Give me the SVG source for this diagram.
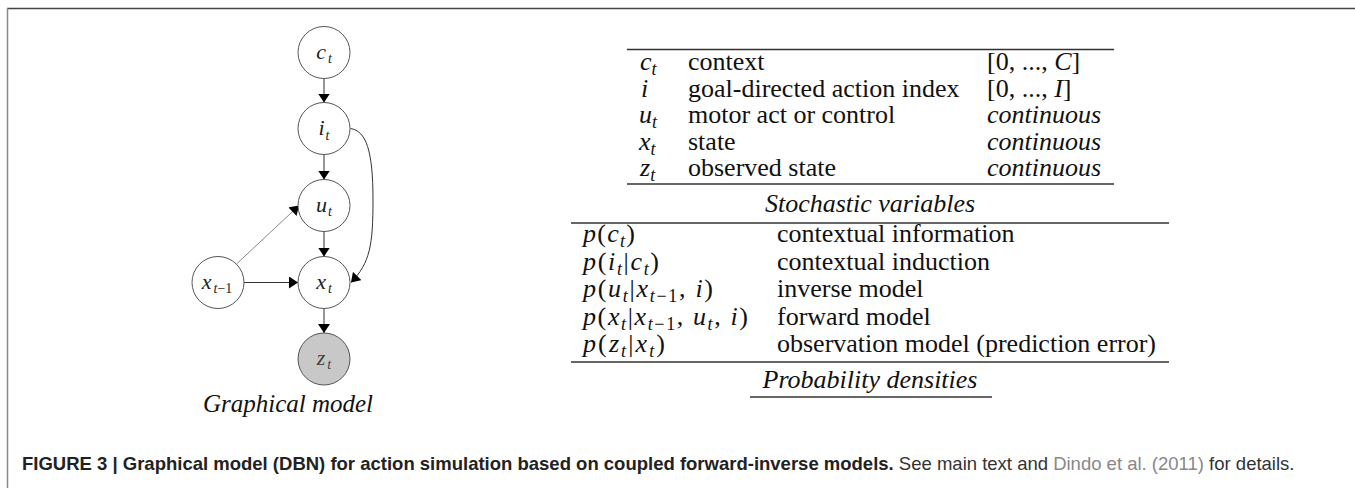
<svg xmlns="http://www.w3.org/2000/svg" width="1355" height="488" viewBox="0 0 1355 488">
<style>
.node{fill:#fff;stroke:#555;stroke-width:1}
.obs{fill:#c8c8c8;stroke:#555;stroke-width:1}
.nl{font-family:"Liberation Serif","Times New Roman",serif;font-style:italic;font-size:22px;fill:#222;text-anchor:middle}
.sub{font-size:14px}
.up{font-style:normal}
.edge{fill:none;stroke:#333;stroke-width:1}
.edge2{fill:none;stroke:#888;stroke-width:1}
.t{font-family:"Liberation Serif","Times New Roman",serif;font-size:26px;fill:#111}
.m{font-family:"Liberation Serif","Times New Roman",serif;font-style:italic;font-size:26px;fill:#111}
.ms{font-size:18px}
.it{font-style:italic}
.rule{stroke:#333;stroke-width:1.3}
.cap{font-family:"Liberation Sans",Arial,sans-serif;font-size:18.5px;fill:#222}
</style>
<defs>
<marker id="ah" viewBox="0 0 9 12" refX="9" refY="6" markerWidth="9" markerHeight="12" markerUnits="userSpaceOnUse" orient="auto">
<path d="M0,0 L9,6 L0,12 z" fill="#000"/>
</marker>
</defs>
<rect x="0" y="0" width="1355" height="488" fill="#fff"/>
<line x1="7" y1="8.5" x2="1355" y2="8.5" stroke="#444" stroke-width="1.5"/>
<line x1="7.5" y1="8" x2="7.5" y2="488" stroke="#888" stroke-width="1.5"/>

<g id="connectors">
<line class="edge" x1="324" y1="78.5" x2="324" y2="102.5" marker-end="url(#ah)"/>
<line class="edge" x1="324" y1="154.5" x2="324" y2="179.5" marker-end="url(#ah)"/>
<line class="edge" x1="324" y1="231.5" x2="324" y2="256.5" marker-end="url(#ah)"/>
<line class="edge" x1="324" y1="308.5" x2="324" y2="333" marker-end="url(#ah)"/>
<line class="edge" x1="244" y1="282.5" x2="298" y2="282.5" marker-end="url(#ah)"/>
<line class="edge2" x1="236.5" y1="264" x2="299" y2="205.5" marker-end="url(#ah)"/>
<path class="edge" d="M350.5,128.5 C366,131 373,150 373,200 C373,245 370,263 351,282.5" marker-end="url(#ah)"/>
</g>

<g id="node-ct">
<circle class="node" cx="324" cy="52.5" r="26"/>
<text class="nl" x="324" y="59">c<tspan class="sub" dx="2" dy="4">t</tspan></text>
</g>
<g id="node-it">
<circle class="node" cx="324" cy="128.5" r="26"/>
<text class="nl" x="324" y="135">i<tspan class="sub" dx="1" dy="5">t</tspan></text>
</g>
<g id="node-ut">
<circle class="node" cx="324" cy="205.5" r="26"/>
<text class="nl" x="324" y="212">u<tspan class="sub" dx="1" dy="4">t</tspan></text>
</g>
<g id="node-xt">
<circle class="node" cx="324" cy="282.5" r="26"/>
<text class="nl" x="324" y="289">x<tspan class="sub" dx="2" dy="4">t</tspan></text>
</g>
<g id="node-xprev">
<circle class="node" cx="218" cy="282.5" r="26"/>
<text class="nl" x="217" y="289">x<tspan class="sub" dx="2" dy="4">t</tspan><tspan class="sub up">−1</tspan></text>
</g>
<g id="node-zt">
<circle class="obs" cx="324" cy="359" r="26"/>
<text class="nl" x="324" y="365" style="fill:#444">z<tspan class="sub" dx="2" dy="4">t</tspan></text>
</g>
<g id="label-graphical">
<text x="288" y="412" font-family="Liberation Serif, Times New Roman, serif" font-style="italic" font-size="25" fill="#111" text-anchor="middle">Graphical model</text>
</g>

<g id="table-variables">
<line class="rule" x1="627" y1="49.5" x2="1114" y2="49.5"/>
<text class="m" x="640" y="70">c<tspan class="ms" dy="5">t</tspan></text>
<text class="m" x="641" y="97">i</text>
<text class="m" x="639" y="123">u<tspan class="ms" dy="5">t</tspan></text>
<text class="m" x="639" y="149.5">x<tspan class="ms" dy="5">t</tspan></text>
<text class="m" x="640" y="176">z<tspan class="ms" dy="5">t</tspan></text>
<text class="t" x="688" y="70">context</text>
<text class="t" x="688" y="97">goal-directed action index</text>
<text class="t" x="688" y="123">motor act or control</text>
<text class="t" x="688" y="149.5">state</text>
<text class="t" x="688" y="176">observed state</text>
<text class="t" x="987" y="70">[0, ..., <tspan class="it">C</tspan>]</text>
<text class="t" x="987" y="97">[0, ..., <tspan class="it">I</tspan>]</text>
<text class="m" x="987" y="123">continuous</text>
<text class="m" x="987" y="149.5">continuous</text>
<text class="m" x="987" y="176">continuous</text>
<line class="rule" x1="627" y1="184" x2="1114" y2="184"/>
<text class="m" x="870" y="212" text-anchor="middle">Stochastic variables</text>
</g>

<g id="table-densities">
<line class="rule" x1="571" y1="223" x2="1169" y2="223"/>
<text class="m" x="583" y="242" textLength="52">p<tspan class="up">(</tspan>c<tspan class="ms" dy="5">t</tspan><tspan class="up" dy="-5">)</tspan></text>
<text class="m" x="583" y="269.5" textLength="76">p<tspan class="up">(</tspan>i<tspan class="ms" dy="5">t</tspan><tspan class="up" dy="-5">|</tspan>c<tspan class="ms" dy="5">t</tspan><tspan class="up" dy="-5">)</tspan></text>
<text class="m" x="583" y="297" textLength="130">p<tspan class="up">(</tspan>u<tspan class="ms" dy="5">t</tspan><tspan class="up" dy="-5">|</tspan>x<tspan class="ms" dy="5">t</tspan><tspan class="ms up">−1</tspan><tspan class="up" dy="-5">, </tspan>i<tspan class="up">)</tspan></text>
<text class="m" x="583" y="324.5" textLength="165">p<tspan class="up">(</tspan>x<tspan class="ms" dy="5">t</tspan><tspan class="up" dy="-5">|</tspan>x<tspan class="ms" dy="5">t</tspan><tspan class="ms up">−1</tspan><tspan class="up" dy="-5">, </tspan>u<tspan class="ms" dy="5">t</tspan><tspan class="up" dy="-5">, </tspan>i<tspan class="up">)</tspan></text>
<text class="m" x="583" y="352" textLength="82">p<tspan class="up">(</tspan>z<tspan class="ms" dy="5">t</tspan><tspan class="up" dy="-5">|</tspan>x<tspan class="ms" dy="5">t</tspan><tspan class="up" dy="-5">)</tspan></text>
<text class="t" x="777" y="242">contextual information</text>
<text class="t" x="777" y="269.5">contextual induction</text>
<text class="t" x="777" y="297">inverse model</text>
<text class="t" x="777" y="324.5">forward model</text>
<text class="t" x="777" y="352">observation model (prediction error)</text>
<line class="rule" x1="571" y1="362" x2="1169" y2="362"/>
<text class="m" x="870" y="388" text-anchor="middle">Probability densities</text>
<line class="rule" x1="750" y1="397" x2="992" y2="397"/>
</g>

<g id="caption">
<text class="cap" x="22" y="470"><tspan font-weight="bold">FIGURE 3 | Graphical model (DBN) for action simulation based on coupled forward-inverse models.</tspan><tspan fill="#333"> See main text and </tspan><tspan fill="#888">Dindo et al. (2011)</tspan><tspan fill="#333"> for details.</tspan></text>
</g>
</svg>
